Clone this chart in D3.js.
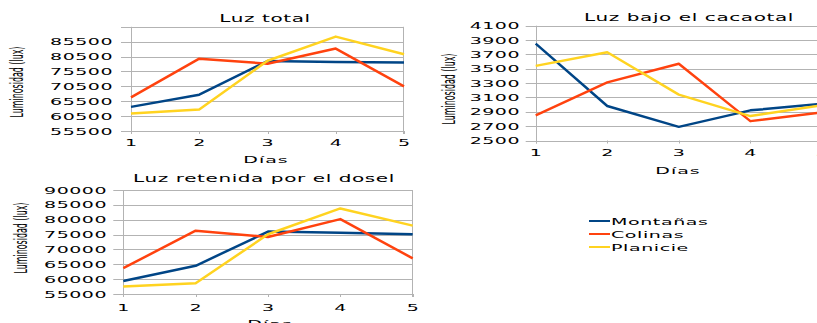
<!DOCTYPE html>
<html><head><meta charset="utf-8">
<script src="https://cdn.jsdelivr.net/npm/d3@7"></script>
<style>body{margin:0;background:#fff;overflow:hidden}</style></head>
<body>
<svg id="c" width="817" height="323"></svg>
<script>
const days = [1, 2, 3, 4, 5];
const seriesNames = ["Montañas", "Colinas", "Planicie"];
const seriesColors = ["#004586", "#ff420e", "#ffd320"];

const totalMontanas = [63600, 67700, 79000, 78700, 78500];
const totalColinas  = [66800, 79800, 78100, 83200, 70500];
const totalPlanicie = [61400, 62700, 79100, 87200, 81300];
const totalTicks = [55500, 60500, 65500, 70500, 75500, 80500, 85500];

const cacaoMontanas = [3850, 2980, 2690, 2920, 3010];
const cacaoColinas  = [2850, 3310, 3570, 2770, 2890];
const cacaoPlanicie = [3540, 3730, 3140, 2840, 2990];
const cacaoTicks = [2500, 2700, 2900, 3100, 3300, 3500, 3700, 3900, 4100];

const doselMontanas = [59400, 64500, 76000, 75600, 75100];
const doselColinas  = [63700, 76300, 74200, 80200, 67000];
const doselPlanicie = [57500, 58600, 75100, 83800, 78000];
const doselTicks = [55000, 60000, 65000, 70000, 75000, 80000, 85000, 90000];

const yTitle = "Luminosidad (lux)";
const xTitle = "Días";

const svg = d3.select("#c");
const FONT = "DejaVu Sans";

function txt(g, s, x, y, o = {}) {
  const size = o.size || 19, sy = o.sy || 0.5;
  const tr = o.rot ? `translate(${x},${y}) scale(1,${sy}) rotate(-90)` : `translate(${x},${y}) scale(1,${sy})`;
  return g.append("text").attr("transform", tr)
    .attr("text-anchor", o.anchor || "start")
    .style("font-family", FONT).style("font-size", size + "px")
    .style("letter-spacing", (o.ls || 0) + "px")
    .attr("fill", "#000").text(s);
}

const charts = [
  { title: "Luz total", data: [totalMontanas, totalColinas, totalPlanicie], ticks: totalTicks,
    domain: [55500, 90500], xr: [131, 404], yr: [131, 26.8], extraTop: true,
    titleX: 265, titleY: 21.7, ytX: 23, ytY: 82, xtX: 266, xtY: 163, labRight: 113, xlabY: 146 },
  { title: "Luz bajo el cacaotal", data: [cacaoMontanas, cacaoColinas, cacaoPlanicie], ticks: cacaoTicks,
    domain: [2500, 4100], xr: [535.7, 821.9], yr: [140.5, 25.7],
    titleX: 689, titleY: 20.7, ytX: 455, ytY: 89, xtX: 678, xtY: 174, labRight: 520, xlabY: 156 },
  { title: "Luz retenida por el dosel", data: [doselMontanas, doselColinas, doselPlanicie], ticks: doselTicks,
    domain: [55000, 90000], xr: [123.3, 412.7], yr: [294, 190],
    titleX: 264, titleY: 181.7, ytX: 27, ytY: 238, xtX: 270, xtY: 327, labRight: 107, xlabY: 311 }
];

charts.forEach(c => {
  const g = svg.append("g");
  const x = d3.scaleLinear().domain([1, 5]).range(c.xr);
  const y = d3.scaleLinear().domain(c.domain).range(c.yr);
  const grid = "#b3b3b3";
  const gridTicks = c.extraTop ? c.ticks.concat([c.domain[1]]) : c.ticks;
  // gridlines with outer ticks
  g.selectAll("line.grid").data(gridTicks).enter().append("line")
    .attr("x1", c.xr[0] - 10).attr("x2", c.xr[1])
    .attr("y1", d => Math.round(y(d)) + 0.5).attr("y2", d => Math.round(y(d)) + 0.5)
    .attr("stroke", grid).attr("stroke-width", 1);
  // left axis & right border
  g.append("line").attr("x1", Math.round(c.xr[0]) + 0.5).attr("x2", Math.round(c.xr[0]) + 0.5)
    .attr("y1", y(c.domain[1])).attr("y2", y(c.domain[0]) + 3).attr("stroke", grid);
  g.append("line").attr("x1", Math.round(c.xr[1]) - 0.5).attr("x2", Math.round(c.xr[1]) - 0.5)
    .attr("y1", y(c.domain[1])).attr("y2", y(c.domain[0]) + 3).attr("stroke", grid);
  // x ticks
  g.selectAll("line.xt").data(days).enter().append("line")
    .attr("x1", d => Math.round(x(d)) + 0.5).attr("x2", d => Math.round(x(d)) + 0.5)
    .attr("y1", y(c.domain[0])).attr("y2", y(c.domain[0]) + 3).attr("stroke", grid);
  // y tick labels
  c.ticks.forEach(t => txt(g, String(t), c.labRight, y(t) + 3.5, { anchor: "end", ls: 0.5 }));
  // x tick labels
  days.forEach(d => txt(g, String(d), x(d), c.xlabY, { anchor: "middle" }));
  // lines
  const line = d3.line().x((d, i) => x(days[i])).y(d => y(d));
  c.data.forEach((s, i) => {
    g.append("path").attr("d", line(s)).attr("fill", "none")
      .attr("stroke", seriesColors[i]).attr("stroke-width", 2.5)
      .attr("stroke-linejoin", "round");
  });
  // titles
  txt(g, c.title, c.titleX, c.titleY, { anchor: "middle", size: 20, sy: 0.48, ls: 0.6 });
  txt(g, xTitle, c.xtX, c.xtY, { anchor: "middle", ls: 1 });
  txt(g, yTitle, c.ytX, c.ytY, { anchor: "middle", rot: true, size: 18, sy: 0.44 });
});

// legend
const lg = svg.append("g");
const legY = [221, 234, 247];
seriesNames.forEach((n, i) => {
  lg.append("line").attr("x1", 589).attr("x2", 610).attr("y1", legY[i]).attr("y2", legY[i])
    .attr("stroke", seriesColors[i]).attr("stroke-width", 2);
  txt(lg, n, 611, legY[i] + 3.5, { ls: 0.6 });
});
</script>
</body></html>
